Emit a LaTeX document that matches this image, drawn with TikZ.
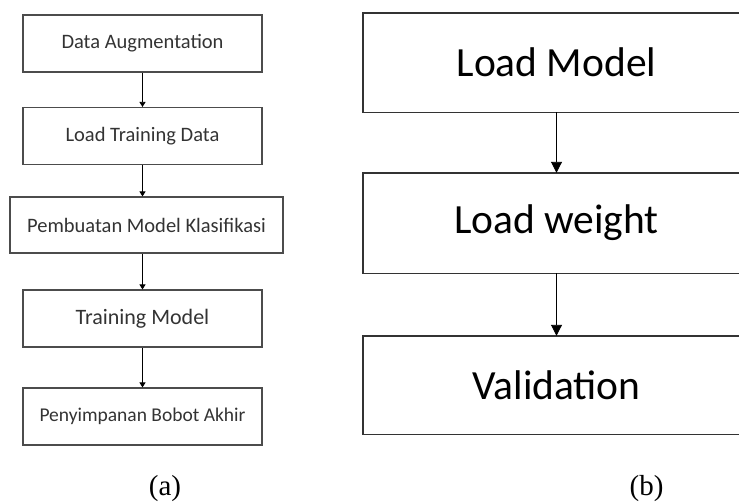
\documentclass[tikz,border=0pt]{standalone}
\usepackage{fontspec}
\setmainfont{Carlito}
\newfontfamily\labelfont{Liberation Serif}
\usetikzlibrary{arrows.meta}

\newcommand{\fsz}[1]{\fontsize{#1}{#1}\selectfont}

\begin{document}
\begin{tikzpicture}[x=1pt, y=-1pt,
    kotakkecil/.style={draw=black!70, line width=1.1pt, minimum width=239pt, minimum height=57pt, text=black!80, inner sep=0pt},
    kotakbesar/.style={minimum width=387pt, minimum height=99pt, text=black, inner sep=0pt, font=\fsz{41.5}},
    tepibesar/.style={draw=black!80, line width=1.4pt},
    panahkecil/.style={-{Triangle[length=5pt, width=6pt]}, line width=0.7pt},
    panahbesar/.style={-{Triangle[length=11pt, width=11pt]}, line width=0.9pt}]
    % Batas gambar
    \clip (0,0) rectangle (739,501);
    \useasboundingbox (0,0) rectangle (739,501);

    % (a) Alur pelatihan
    \node[kotakkecil, font=\fsz{20.5}] (aug) at (142.5,43.5) {Data Augmentation};
    \node[kotakkecil, font=\fsz{20.5}] (load) at (142.5,136) {Load Training Data};
    \node[kotakkecil, font=\fsz{20.5}, minimum width=273pt, minimum height=56pt] (buat) at (146.5,225) {Pembuatan Model Klasifikasi};
    \node[kotakkecil, font=\fsz{22}] (train) at (142.5,318.5) {Training Model};
    \node[kotakkecil, font=\fsz{19.5}] (simpan) at (142.5,416.5) {Penyimpanan Bobot Akhir};

    % Panah (a)
    \draw[panahkecil] (aug.south) -- (load.north);
    \draw[panahkecil] (load.south) -- (load.south |- buat.north);
    \draw[panahkecil] (load.south |- buat.south) -- (train.north);
    \draw[panahkecil] (train.south) -- (simpan.north);

    % (b) Alur validasi (sisi kanan terpotong)
    \node[kotakbesar] (model) at (556.5,62.5) {Load Model};
    \node[kotakbesar, minimum height=100pt] (bobot) at (556.5,223) {Load weight};
    \node[kotakbesar, minimum height=98pt] (valid) at (556.5,385) {Validation};
    \foreach \k in {model, bobot, valid}
        \draw[tepibesar] (\k.north east) -- (\k.north west) -- (\k.south west) -- (\k.south east);

    % Panah (b)
    \draw[panahbesar] (model.south) -- (bobot.north);
    \draw[panahbesar] (bobot.south) -- (valid.north);

    % Keterangan
    \node[anchor=base, font=\labelfont\fsz{29}] (capa) at (165,495) {(a)};
    \node[anchor=base, font=\labelfont\fsz{29}] (capb) at (646.5,495) {(b)};
\end{tikzpicture}
\end{document}
